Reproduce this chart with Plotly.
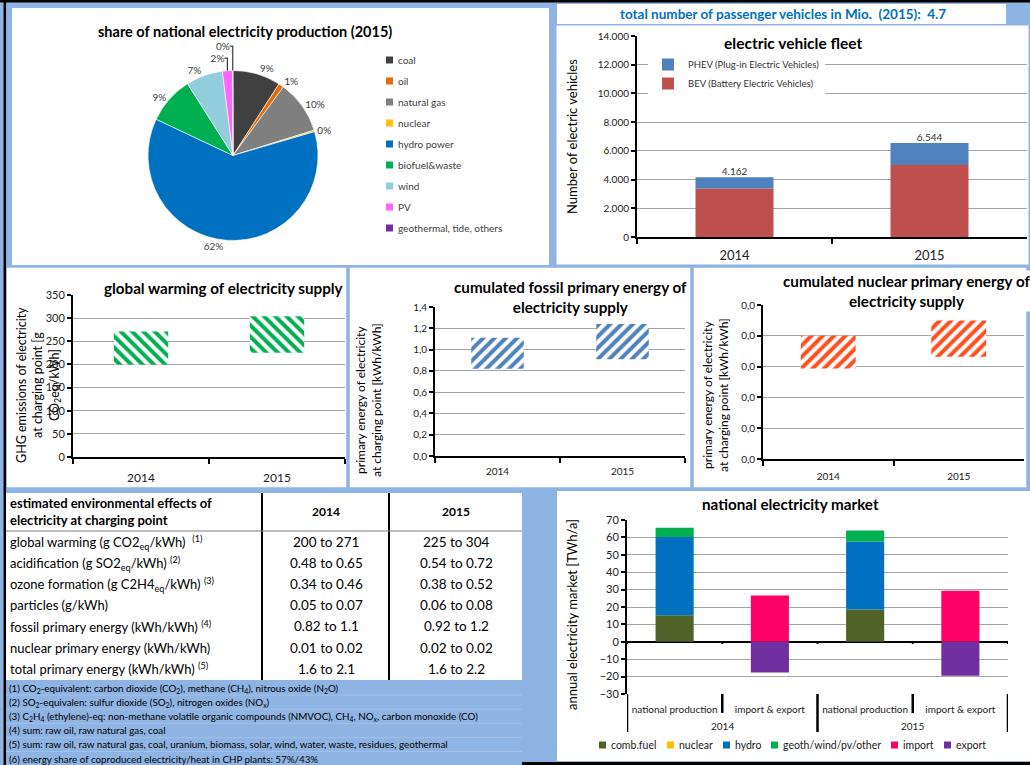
import numpy as np
import plotly.graph_objects as go

W, H = 1030, 765


def fx(p):
    return p / W


def fy(p):
    return 1 - p / H


FONT = "Lato"
BLUE_BG = "#8EB4E3"
GRID = "#A6A6A6"

# ---------------- data ----------------
pie_labels = ["coal", "oil", "natural gas", "nuclear", "hydro power",
              "biofuel&waste", "wind", "PV", "geothermal, tide, others"]
pie_shares = [9.1, 1.0, 10.1, 0.3, 61.6, 9.0, 7.0, 1.9, 0.1]
pie_colors = ["#404040", "#E46C0A", "#7F7F7F", "#FFC000", "#0070C0",
              "#00B050", "#92CDDC", "#FF66FF", "#7030A0"]

years = ["2014", "2015"]
bev = [3372, 5020]
phev = [790, 1524]

ghg_low = [200, 225]
ghg_high = [271, 304]
fossil_low = [0.82, 0.91]
fossil_high = [1.11, 1.24]
nuclear_low = [0.0147, 0.0166]
nuclear_high = [0.0200, 0.0225]

market_years = ["2014", "2014", "2015", "2015"]
market_groups = ["national production", "import & export",
                 "national production", "import & export"]
comb_fuel = [15.3, 0, 18.5, 0]
nuclear_gen = [0, 0, 0, 0]
hydro = [44.9, 0, 39.1, 0]
geoth_other = [5.4, 0, 6.3, 0]
imports = [0, 26.6, 0, 29.3]
exports = [0, -17.6, 0, -19.5]

table_rows = [
    "global warming (g CO2<sub>eq</sub>/kWh)  <sup>(1)</sup>",
    "acidification (g SO2<sub>eq</sub>/kWh) <sup>(2)</sup>",
    "ozone formation (g C2H4<sub>eq</sub>/kWh) <sup>(3)</sup>",
    "particles (g/kWh)",
    "fossil primary energy (kWh/kWh) <sup>(4)</sup>",
    "nuclear primary energy (kWh/kWh)",
    "total primary energy (kWh/kWh) <sup>(5)</sup>",
]
table_2014 = ["200 to 271", "0.48 to 0.65", "0.34 to 0.46", "0.05 to 0.07",
              "0.82 to 1.1", "0.01 to 0.02", "1.6 to 2.1"]
table_2015 = ["225 to 304", "0.54 to 0.72", "0.38 to 0.52", "0.06 to 0.08",
              "0.92 to 1.2", "0.02 to 0.02", "1.6 to 2.2"]

footnotes = [
    "(1) CO<sub>2</sub>-equivalent: carbon dioxide (CO<sub>2</sub>), methane (CH<sub>4</sub>), nitrous oxide (N<sub>2</sub>O)",
    "(2) SO<sub>2</sub>-equivalen: sulfur dioxide (SO<sub>2</sub>), nitrogen oxides (NO<sub>x</sub>)",
    "(3) C<sub>2</sub>H<sub>4</sub> (ethylene)-eq: non-methane volatile organic compounds (NMVOC), CH<sub>4</sub>, NO<sub>x</sub>, carbon monoxide (CO)",
    "(4) sum: raw oil, raw natural gas, coal",
    "(5) sum: raw oil, raw natural gas, coal, uranium, biomass, solar, wind, water, waste, residues, geothermal",
    "(6) energy share of coproduced electricity/heat in CHP plants: 57%/43%",
]

fig = go.Figure()

# ---------------- pie ----------------
fig.add_trace(go.Pie(
    labels=pie_labels, values=pie_shares, sort=False, direction="clockwise",
    marker=dict(colors=pie_colors, line=dict(color="white", width=0.6)),
    texttemplate="%{percent:.0%}", textposition="outside",
    textfont=dict(size=10, color="#404040", family=FONT),
    domain=dict(x=[fx(148), fx(318)], y=[fy(241), fy(70)]),
    showlegend=False,
))

# ---------------- electric vehicle fleet ----------------
fig.add_trace(go.Bar(x=years, y=bev, base=0, width=0.4, name="BEV (Battery Electric Vehicles)",
                     marker=dict(color="#C0504D", line=dict(width=0)),
                     xaxis="x", yaxis="y", legend="legend2"))
fig.add_trace(go.Bar(x=years, y=phev, base=bev, width=0.4, name="PHEV (Plug-in Electric Vehicles)",
                     marker=dict(color="#4F81BD", line=dict(width=0)),
                     xaxis="x", yaxis="y", legend="legend2"))
ev_total = (np.array(bev) + np.array(phev)).tolist()
fig.add_trace(go.Scatter(x=years, y=ev_total, mode="text", texttemplate="%{y:,.0f}",
                         textposition="top center", textfont=dict(size=10, color="#333", family=FONT),
                         xaxis="x", yaxis="y", showlegend=False, hoverinfo="skip"))


def range_bar(low, high, color, shape, xa, ya, width):
    lo = np.array(low)
    hi = np.array(high)
    return go.Bar(x=years, y=(hi - lo).tolist(), base=lo.tolist(), width=width,
                  marker=dict(color="white", line=dict(width=0),
                              pattern=dict(shape=shape, fgcolor=color, bgcolor="white",
                                           size=8, solidity=0.5, fillmode="replace")),
                  xaxis=xa, yaxis=ya, showlegend=False)


fig.add_trace(range_bar(ghg_low, ghg_high, "#00B050", "\\", "x2", "y2", 0.40))
fig.add_trace(range_bar(fossil_low, fossil_high, "#4F81BD", "/", "x3", "y3", 0.42))
fig.add_trace(range_bar(nuclear_low, nuclear_high, "#FF4F1F", "/", "x4", "y4", 0.42))

# ---------------- national electricity market ----------------
# one category per (year, group); group names become tick labels, years sit below
market_cats = [f"{yr} {grp}" for yr, grp in zip(market_years, market_groups)]
c = np.array(comb_fuel)
n = np.array(nuclear_gen)
h = np.array(hydro)
market_series = [
    ("comb.fuel", comb_fuel, np.zeros(4), "#4F6228"),
    ("nuclear", nuclear_gen, c, "#FFC000"),
    ("hydro", hydro, c + n, "#0070C0"),
    ("geoth/wind/pv/other", geoth_other, c + n + h, "#00B050"),
    ("import", imports, np.zeros(4), "#FF0066"),
    ("export", exports, np.zeros(4), "#7030A0"),
]
for name, vals, base, col in market_series:
    fig.add_trace(go.Bar(x=market_cats, y=vals, base=base.tolist(), width=0.4, name=name,
                         marker=dict(color=col, line=dict(width=0)),
                         xaxis="x5", yaxis="y5", showlegend=False))


# ---------------- axes ----------------
def xaxis(x0, x1, anchor, size, standoff):
    return dict(domain=[fx(x0), fx(x1)], anchor=anchor, showgrid=False, automargin=False,
                type="category", showline=True, linecolor="black", linewidth=2,
                ticks="outside", tickson="boundaries", ticklen=5, tickwidth=2, tickcolor="black",
                ticklabelstandoff=standoff,
                tickfont=dict(size=size, color="#222", family=FONT), fixedrange=True)


def yaxis(y0, y1, anchor, rng, dtick, fmt, size):
    return dict(domain=[fy(y1), fy(y0)], anchor=anchor, range=rng, dtick=dtick,
                tickformat=fmt, showline=True, linecolor="black", linewidth=2,
                ticks="outside", ticklen=4, tickwidth=1.5, tickcolor="black",
                showgrid=True, gridcolor=GRID, gridwidth=1, zeroline=False, automargin=False,
                tickfont=dict(size=size, color="#222", family=FONT), fixedrange=True)


layout_axes = dict(
    xaxis=xaxis(637, 1027, "y", 13, 5),
    yaxis=yaxis(36, 237, "x", [0, 14000], 2000, ",d", 10),
    xaxis2=xaxis(73, 345, "y2", 12, 9),
    yaxis2=yaxis(295, 457, "x2", [0, 350], 50, "d", 11),
    xaxis3=xaxis(435, 685, "y3", 10, 5),
    yaxis3=yaxis(307, 456, "x3", [0, 1.4], 0.2, ".1f", 10),
    xaxis4=xaxis(763, 1024, "y4", 10, 7),
    yaxis4=yaxis(305, 459, "x4", [0, 0.025], 0.005, ".1f", 10),
    xaxis5=xaxis(627, 1008, "y5", 10, 8),
    yaxis5=yaxis(520, 694, "x5", [-30, 70], 10, "d", 11),
)
layout_axes["xaxis5"].update(showline=False, ticks="", tickangle=0,
                             tickvals=market_cats, ticktext=market_groups,
                             range=[-0.5, len(market_cats) - 0.5])
layout_axes["yaxis5"].update(zeroline=True, zerolinecolor="black", zerolinewidth=2)

# ---------------- page panels ----------------
shapes = []


def rect(x0, y0, x1, y1, fill, line=None, lw=0, layer="below"):
    shapes.append(dict(type="rect", xref="paper", yref="paper",
                       x0=fx(x0), x1=fx(x1), y0=fy(y1), y1=fy(y0),
                       fillcolor=fill, line=dict(color=line or fill, width=lw), layer=layer))


def hline(x0, x1, y, color, w):
    shapes.append(dict(type="line", xref="paper", yref="paper", x0=fx(x0), x1=fx(x1),
                       y0=fy(y), y1=fy(y), line=dict(color=color, width=w), layer="above"))


def vline(x, y0, y1, color, w):
    shapes.append(dict(type="line", xref="paper", yref="paper", x0=fx(x), x1=fx(x),
                       y0=fy(y0), y1=fy(y1), line=dict(color=color, width=w), layer="above"))


rect(12, 8, 549, 265, "white")
rect(557, 4, 1006, 24, "white")
rect(556, 25, 1029, 265, "white", BLUE_BG, 1)
rect(6, 267, 347, 488, "white", BLUE_BG, 1.5)
rect(349, 267, 691, 488, "white", BLUE_BG, 1.5)
rect(693, 267, 1027, 488, "white", BLUE_BG, 1.5)
rect(6, 493, 522, 680, "white")
rect(557, 491, 1030, 761, "white")

hline(0, W, 1.2, "black", 2.5)
vline(4.8, 0, H, "black", 2.5)
hline(522, W, 763.5, "black", 3)

# table grid
vline(262, 493, 680, "black", 2)
vline(389, 493, 680, "black", 2)
hline(6, 522, 531, "#7F7F7F", 1)

# faint separators between the footnotes
for i in range(1, 6):
    hline(6, 522, 681 + 14.1 * i, "#A9C3E8", 0.8)

# category dividers below the market chart: long ones between years, short ones between groups
n_cat = len(market_cats)
for k in range(n_cat + 1):
    xb = k - 0.5
    long_div = (k % 2 == 0)
    shapes.append(dict(type="line", xref="x5", yref="paper", x0=xb, x1=xb,
                       y0=fy(732 if long_div else 713), y1=fy(694),
                       line=dict(color="black", width=2.5), layer="above"))
    shapes.append(dict(type="line", xref="x5", yref="y5", x0=xb, x1=xb, y0=0, y1=-1.2,
                       line=dict(color="black", width=2), layer="above"))

# legend swatches for the pie and the market chart
for i, col in enumerate(pie_colors):
    yy = 60 + 21 * i
    rect(386, yy - 3.5, 393, yy + 3.5, col, layer="above")

market_key_x = [599, 667, 723, 771, 891, 944]
for kx, (name, _, _, col) in zip(market_key_x, market_series):
    rect(kx, 741.5, kx + 7, 748.5, col, layer="above")

# ---------------- text ----------------
ann = []


def text(x, y, s, size, bold=False, color="black", xanchor="center", angle=0, bg=None, align="center"):
    a = dict(x=fx(x), y=fy(y), xref="paper", yref="paper", text=(f"<b>{s}</b>" if bold else s),
             showarrow=False, xanchor=xanchor, yanchor="middle", textangle=angle, align=align,
             font=dict(size=size, color=color, family=FONT))
    if bg:
        a.update(bgcolor=bg, borderpad=1)
    ann.append(a)


text(245, 32, "share of national electricity production (2015)", 14.5, bold=True)
for i, lab in enumerate(pie_labels):
    text(396, 60 + 21 * i, lab, 10, color="#404040", xanchor="left")

for kx, (name, _, _, _) in zip(market_key_x, market_series):
    text(kx + 10, 745, name, 10.5, color="#222", xanchor="left")

# year labels centred under each pair of market categories
for k, yr in enumerate(years):
    ann.append(dict(x=2 * k + 0.5, y=fy(726), xref="x5", yref="paper", text=yr,
                    showarrow=False, xanchor="center", yanchor="middle",
                    font=dict(size=10, color="#222", family=FONT)))

text(783, 14, "total number of passenger vehicles in Mio.\u00a0 (2015):\u00a0 4.7", 13.5,
     bold=True, color="#0070C0")
text(793, 43, "electric vehicle fleet", 15.5, bold=True, bg="white")
text(572, 137, "Number of electric vehicles", 13, angle=-90)

text(223, 288, "global warming of electricity supply", 15.2, bold=True, bg="white")
text(38, 385, "GHG emissions of electricity<br>at charging point [g<br>CO<sub>2</sub>eq/kWh]", 12.5, angle=-90)

text(570, 297, "cumulated fossil primary energy of<br>electricity supply", 15.2, bold=True, bg="white")
text(368, 400, "primary energy of electricity<br>at charging point [kWh/kWh]", 12, angle=-90)

text(906, 291, "cumulated nuclear primary energy of<br>electricity supply", 15.2, bold=True, bg="white")
text(715, 395, "primary energy of electricity<br>at charging point [kWh/kWh]", 12, angle=-90)

text(790, 504, "national electricity market", 15.2, bold=True)
text(572, 615, "annual electricity market [TWh/a]", 13, angle=-90)

# table
text(8, 512, "estimated environmental effects of<br>electricity at charging point", 13, bold=True,
     xanchor="left", align="left")
text(326, 512, "2014", 12, bold=True)
text(456, 512, "2015", 12, bold=True)
for i, (lab, a, b) in enumerate(zip(table_rows, table_2014, table_2015)):
    yy = 542 + 21.1 * i
    text(8, yy, lab, 13, xanchor="left", align="left")
    text(326, yy, a, 13.5)
    text(456, yy, b, 13.5)

for i, fn in enumerate(footnotes):
    text(7, 688 + 14.1 * i, fn, 9.8, xanchor="left", align="left")

fig.update_layout(
    width=W, height=H, autosize=False,
    margin=dict(l=0, r=0, t=0, b=0, autoexpand=False),
    paper_bgcolor=BLUE_BG, plot_bgcolor="rgba(0,0,0,0)",
    barmode="overlay", separators=",.",
    font=dict(family=FONT, color="black"),
    shapes=shapes, annotations=ann,
    legend2=dict(x=fx(648), y=fy(50), xanchor="left", yanchor="top", traceorder="reversed",
                 bgcolor="white", font=dict(size=9.5, color="#333", family=FONT)),
    **layout_axes,
)

fig.write_html("out.html")
